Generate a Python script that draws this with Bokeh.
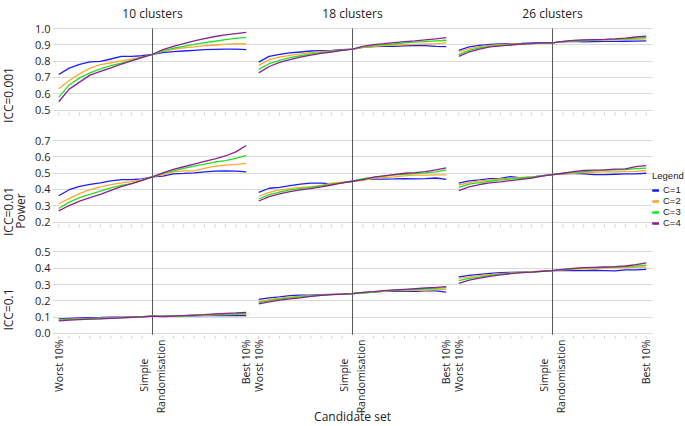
import math
from bokeh.plotting import figure
from bokeh.layouts import row
from bokeh.core.properties import value
from bokeh.models import FixedTicker, Range1d, Legend, LegendItem, LinearAxis
from bokeh.embed import file_html
from bokeh.resources import INLINE

# ---------------- data ----------------
clusters = ["10 clusters", "18 clusters", "26 clusters"]
iccs = ["ICC=0.001", "ICC=0.01", "ICC=0.1"]
y_title = "Power"
series_names = ["C=1", "C=2", "C=3", "C=4"]
colors = ["#1c1cff", "#ffa82e", "#22e022", "#8e1f8e"]
x_tick_labels = ["Worst 10%", "Simple" + "\u00a0" * 7 + "\nRandomisation", "Best 10%"]
x_tick_index = [0, 9, 18]
n_sets = 19
row_y_ticks = [
    [0.5, 0.6, 0.7, 0.8, 0.9, 1.0],
    [0.2, 0.3, 0.4, 0.5, 0.6, 0.7],
    [0.0, 0.1, 0.2, 0.3, 0.4, 0.5],
]

icc0001_k10 = [
    [0.718, 0.757, 0.780, 0.796, 0.798, 0.813, 0.829, 0.829, 0.833, 0.842, 0.852, 0.858, 0.862, 0.866, 0.870, 0.872, 0.874, 0.874, 0.870],
    [0.630, 0.681, 0.722, 0.757, 0.778, 0.790, 0.802, 0.813, 0.825, 0.842, 0.860, 0.872, 0.881, 0.887, 0.893, 0.899, 0.903, 0.907, 0.905],
    [0.578, 0.654, 0.697, 0.728, 0.753, 0.772, 0.788, 0.805, 0.821, 0.842, 0.862, 0.879, 0.891, 0.903, 0.914, 0.922, 0.932, 0.940, 0.946],
    [0.551, 0.628, 0.671, 0.714, 0.737, 0.759, 0.782, 0.802, 0.823, 0.842, 0.870, 0.891, 0.907, 0.924, 0.938, 0.951, 0.961, 0.969, 0.977],
]
icc0001_k18 = [
    [0.794, 0.829, 0.842, 0.850, 0.856, 0.862, 0.864, 0.866, 0.870, 0.874, 0.885, 0.889, 0.891, 0.891, 0.893, 0.895, 0.895, 0.891, 0.889],
    [0.774, 0.809, 0.825, 0.835, 0.844, 0.852, 0.858, 0.862, 0.868, 0.874, 0.885, 0.889, 0.895, 0.899, 0.901, 0.903, 0.905, 0.907, 0.912],
    [0.749, 0.784, 0.805, 0.821, 0.833, 0.844, 0.852, 0.860, 0.866, 0.874, 0.887, 0.895, 0.901, 0.905, 0.912, 0.916, 0.920, 0.924, 0.928],
    [0.728, 0.767, 0.792, 0.809, 0.825, 0.837, 0.848, 0.856, 0.866, 0.874, 0.891, 0.901, 0.907, 0.914, 0.920, 0.924, 0.930, 0.936, 0.944],
]
icc0001_k26 = [
    [0.866, 0.887, 0.897, 0.903, 0.905, 0.907, 0.909, 0.912, 0.914, 0.912, 0.919, 0.921, 0.918, 0.920, 0.921, 0.921, 0.922, 0.923, 0.924],
    [0.856, 0.877, 0.889, 0.897, 0.901, 0.905, 0.907, 0.909, 0.911, 0.912, 0.919, 0.923, 0.926, 0.927, 0.929, 0.931, 0.933, 0.934, 0.937],
    [0.840, 0.866, 0.881, 0.891, 0.897, 0.901, 0.905, 0.907, 0.911, 0.912, 0.920, 0.925, 0.928, 0.930, 0.932, 0.935, 0.937, 0.941, 0.945],
    [0.829, 0.856, 0.874, 0.887, 0.893, 0.899, 0.905, 0.907, 0.913, 0.912, 0.921, 0.927, 0.930, 0.932, 0.934, 0.937, 0.941, 0.948, 0.953],
]
icc001_k10 = [
    [0.361, 0.398, 0.419, 0.431, 0.440, 0.452, 0.460, 0.460, 0.464, 0.477, 0.481, 0.495, 0.498, 0.502, 0.508, 0.512, 0.514, 0.512, 0.508],
    [0.312, 0.343, 0.374, 0.398, 0.415, 0.429, 0.440, 0.448, 0.460, 0.477, 0.491, 0.508, 0.514, 0.514, 0.529, 0.543, 0.549, 0.553, 0.560],
    [0.283, 0.322, 0.349, 0.369, 0.390, 0.409, 0.425, 0.436, 0.456, 0.477, 0.498, 0.514, 0.529, 0.543, 0.555, 0.568, 0.576, 0.590, 0.609],
    [0.268, 0.301, 0.328, 0.349, 0.369, 0.394, 0.417, 0.436, 0.456, 0.477, 0.502, 0.523, 0.539, 0.555, 0.572, 0.588, 0.605, 0.630, 0.669],
]
icc001_k18 = [
    [0.382, 0.407, 0.413, 0.423, 0.432, 0.438, 0.438, 0.434, 0.440, 0.450, 0.460, 0.464, 0.463, 0.464, 0.466, 0.464, 0.466, 0.470, 0.462],
    [0.358, 0.382, 0.397, 0.405, 0.413, 0.417, 0.425, 0.438, 0.444, 0.450, 0.456, 0.468, 0.473, 0.477, 0.483, 0.487, 0.487, 0.489, 0.489],
    [0.341, 0.368, 0.384, 0.397, 0.405, 0.413, 0.421, 0.432, 0.440, 0.450, 0.466, 0.473, 0.481, 0.489, 0.493, 0.497, 0.501, 0.507, 0.520],
    [0.329, 0.356, 0.372, 0.386, 0.397, 0.405, 0.415, 0.427, 0.440, 0.450, 0.460, 0.475, 0.483, 0.491, 0.499, 0.503, 0.509, 0.520, 0.532],
]
icc001_k26 = [
    [0.438, 0.452, 0.458, 0.466, 0.468, 0.479, 0.470, 0.475, 0.485, 0.491, 0.495, 0.499, 0.495, 0.491, 0.491, 0.493, 0.495, 0.495, 0.499],
    [0.427, 0.442, 0.452, 0.458, 0.464, 0.468, 0.473, 0.477, 0.483, 0.491, 0.495, 0.499, 0.503, 0.505, 0.507, 0.507, 0.509, 0.511, 0.516],
    [0.413, 0.432, 0.442, 0.450, 0.458, 0.464, 0.470, 0.475, 0.483, 0.491, 0.499, 0.503, 0.509, 0.514, 0.518, 0.520, 0.522, 0.528, 0.530],
    [0.393, 0.415, 0.430, 0.440, 0.446, 0.454, 0.462, 0.470, 0.481, 0.491, 0.499, 0.509, 0.516, 0.518, 0.520, 0.524, 0.526, 0.540, 0.546],
]
icc01_k10 = [
    [0.090, 0.093, 0.095, 0.097, 0.098, 0.100, 0.100, 0.102, 0.103, 0.106, 0.107, 0.108, 0.108, 0.109, 0.110, 0.110, 0.110, 0.110, 0.110],
    [0.085, 0.088, 0.090, 0.092, 0.094, 0.096, 0.098, 0.100, 0.102, 0.106, 0.105, 0.107, 0.109, 0.111, 0.112, 0.114, 0.116, 0.117, 0.118],
    [0.082, 0.085, 0.088, 0.090, 0.092, 0.094, 0.096, 0.099, 0.101, 0.106, 0.105, 0.107, 0.109, 0.112, 0.114, 0.117, 0.119, 0.121, 0.123],
    [0.078, 0.082, 0.085, 0.088, 0.090, 0.093, 0.096, 0.099, 0.102, 0.106, 0.104, 0.107, 0.110, 0.113, 0.116, 0.120, 0.123, 0.126, 0.130],
]
icc01_k18 = [
    [0.209, 0.219, 0.225, 0.232, 0.236, 0.236, 0.238, 0.240, 0.242, 0.244, 0.250, 0.254, 0.259, 0.259, 0.259, 0.259, 0.261, 0.261, 0.254],
    [0.196, 0.207, 0.217, 0.223, 0.228, 0.232, 0.236, 0.240, 0.242, 0.244, 0.250, 0.254, 0.259, 0.263, 0.263, 0.265, 0.265, 0.269, 0.271],
    [0.190, 0.200, 0.211, 0.219, 0.225, 0.230, 0.234, 0.238, 0.240, 0.244, 0.250, 0.254, 0.261, 0.265, 0.267, 0.271, 0.273, 0.277, 0.281],
    [0.182, 0.194, 0.205, 0.213, 0.219, 0.228, 0.234, 0.238, 0.242, 0.244, 0.252, 0.257, 0.263, 0.267, 0.271, 0.275, 0.279, 0.283, 0.288],
]
icc01_k26 = [
    [0.348, 0.357, 0.363, 0.369, 0.373, 0.375, 0.377, 0.379, 0.381, 0.386, 0.388, 0.386, 0.386, 0.388, 0.386, 0.384, 0.390, 0.390, 0.394],
    [0.338, 0.348, 0.355, 0.361, 0.367, 0.371, 0.375, 0.379, 0.382, 0.386, 0.390, 0.394, 0.396, 0.398, 0.402, 0.402, 0.404, 0.406, 0.408],
    [0.324, 0.338, 0.346, 0.357, 0.363, 0.369, 0.373, 0.377, 0.382, 0.386, 0.392, 0.398, 0.402, 0.404, 0.406, 0.408, 0.410, 0.414, 0.419],
    [0.307, 0.328, 0.340, 0.351, 0.359, 0.367, 0.373, 0.377, 0.382, 0.386, 0.394, 0.400, 0.404, 0.406, 0.408, 0.410, 0.414, 0.423, 0.433],
]

panels = [
    [icc0001_k10, icc0001_k18, icc0001_k26],
    [icc001_k10, icc001_k18, icc001_k26],
    [icc01_k10, icc01_k18, icc01_k26],
]

# ---------------- layout ----------------
P = 19.2                    # panel period along the shared x scale
X0, X1 = -0.6, 3 * P - 0.6
row_offsets = [0.871, 0.484, 0.0]
FW, FH = 600, 312
FRAME_TOP = 26
SIDE_W = 32
Y0 = -0.0307
KY = 163.0
Y1 = Y0 + FH / KY

TXT = "#222222"
FONT = "Open Sans"

# narrow strip on the left holding the facet row labels and the y title
side = figure(frame_width=SIDE_W, frame_height=400,
              x_range=Range1d(0, SIDE_W), y_range=Range1d(400, 0),
              output_backend="svg", toolbar_location=None,
              x_axis_location=None, y_axis_location=None,
              min_border_left=0, min_border_right=0,
              min_border_top=0, min_border_bottom=0)
side.outline_line_color = None
side.grid.visible = False
row_label_page_y = [68.5, 185, 283]
side.text(x=[7.5, 7.5, 7.5, 20], y=row_label_page_y + [184.5],
          text=iccs + [y_title], angle=math.pi / 2,
          text_align="center", text_baseline="middle",
          text_font=value(FONT), text_font_size="12px", text_color=TXT)

p = figure(frame_width=FW, frame_height=FH,
           x_range=Range1d(X0, X1), y_range=Range1d(Y0, Y1),
           output_backend="svg", toolbar_location=None,
           min_border_left=52 - SIDE_W, min_border_right=0,
           min_border_top=FRAME_TOP, min_border_bottom=86)
p.outline_line_color = None
p.background_fill_color = "white"
p.xgrid.grid_line_color = None
p.ygrid.grid_line_color = "#d9d9d9"
p.ygrid.grid_line_width = 1

xa = p.below[0]
ya = p.left[0]


def no_ticks(ax):
    ax.axis_line_color = None
    ax.major_tick_line_color = None
    ax.minor_tick_line_color = None
    ax.major_tick_out = 0
    ax.major_tick_in = 0
    ax.minor_tick_out = 0
    ax.minor_tick_in = 0


# y axis: row-specific tick labels
yt, yover = [], {}
for r, ticks in enumerate(row_y_ticks):
    for v in ticks:
        t = round(v + row_offsets[r], 4)
        yt.append(t)
        yover[t] = f"{v:.1f}"
ya.ticker = FixedTicker(ticks=yt, minor_ticks=[])
ya.major_label_overrides = yover
no_ticks(ya)
ya.major_label_standoff = 2
ya.major_label_text_font = FONT
ya.major_label_text_font_size = "11px"
ya.major_label_text_color = TXT

# x axis: candidate set labels for each panel
xt, xover = [], {}
for c in range(3):
    for j, lab in zip(x_tick_index, x_tick_labels):
        t = round(c * P + j, 4)
        xt.append(t)
        xover[t] = lab
xa.ticker = FixedTicker(ticks=xt, minor_ticks=[])
xa.major_label_overrides = xover
xa.major_label_orientation = math.pi / 2
no_ticks(xa)
xa.major_label_standoff = 1
xa.major_label_text_font = FONT
xa.major_label_text_font_size = "10.5px"
xa.major_label_text_color = TXT
xa.axis_label = "Candidate set"
xa.axis_label_standoff = -8
xa.axis_label_text_font = FONT
xa.axis_label_text_font_size = "12px"
xa.axis_label_text_font_style = "normal"
xa.axis_label_text_color = TXT

# facet column labels as a top axis
ct, cover = [], {}
for c, name in enumerate(clusters):
    t = round(c * P + 9, 4)
    ct.append(t)
    cover[t] = name
col_axis = LinearAxis(ticker=FixedTicker(ticks=ct, minor_ticks=[]),
                      major_label_overrides=cover,
                      major_label_standoff=5,
                      major_label_text_font=FONT,
                      major_label_text_font_size="12px",
                      major_label_text_color=TXT)
no_ticks(col_axis)
p.add_layout(col_axis, "above")

# faint tick dots along the bottom of each row
for r in range(3):
    ybase = row_y_ticks[r][0] + row_offsets[r] - 3.8 / KY
    dx = [c * P + i for c in range(3) for i in range(n_sets) if i != 9]
    p.scatter(x=dx, y=[ybase] * len(dx), marker="dash", angle=math.pi / 2,
              size=3, line_color="#cfcfcf", line_width=1)

# vertical reference lines at simple randomisation
top_val = row_y_ticks[0][-1] + row_offsets[0]
bot_val = row_y_ticks[2][0] + row_offsets[2] - 1.3 / KY
for c in range(3):
    p.segment(x0=[c * P + 9], y0=[bot_val], x1=[c * P + 9], y1=[top_val],
              line_color="#5a5a5a", line_width=1)

# data lines
series_renderers = [[] for _ in range(4)]
for r in range(3):
    for c in range(3):
        for s in range(4):
            vals = panels[r][c][s]
            xs = [c * P + i for i in range(n_sets)]
            ys = [v + row_offsets[r] for v in vals]
            gr = p.line(xs, ys, line_color=colors[s], line_width=1.3)
            series_renderers[s].append(gr)

# legend
items = [LegendItem(label=series_names[s], renderers=series_renderers[s])
         for s in range(4)]
legend = Legend(items=items, location=(0, 110), title="Legend",
                glyph_width=7, glyph_height=8, label_height=8, label_standoff=4,
                spacing=0, padding=0, margin=0,
                border_line_alpha=0, background_fill_alpha=0,
                label_text_font="Liberation Sans", label_text_font_size="9.5px",
                label_text_color=TXT,
                title_text_font="Liberation Sans", title_text_font_size="9.5px",
                title_text_font_style="normal", title_text_color=TXT,
                title_standoff=3)
p.add_layout(legend, "right")

layout = row(side, p, spacing=0)
open("out.html", "w").write(file_html(layout, INLINE))
